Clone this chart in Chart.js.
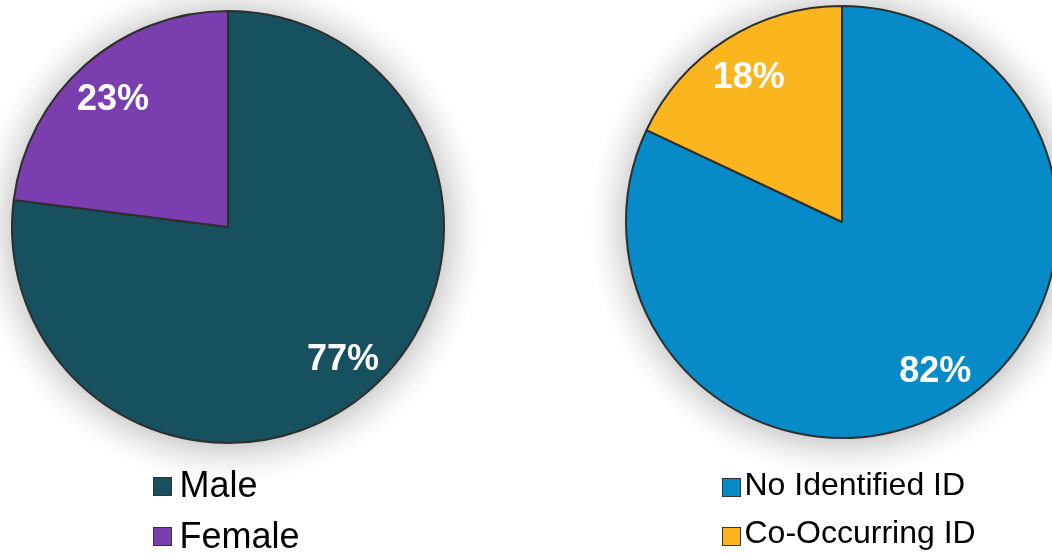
<!DOCTYPE html>
<html>
<head>
<meta charset="utf-8">
<script src="https://cdn.jsdelivr.net/npm/chart.js@4/dist/chart.umd.min.js"></script>
<style>
  html, body { margin: 0; padding: 0; width: 1052px; height: 554px; overflow: hidden; background: #fff; }
  body { position: relative; font-family: "Liberation Sans", Arial, sans-serif; }
  canvas { position: absolute; }
  .leg { position: absolute; white-space: nowrap; color: #000; }
  .sq { position: absolute; box-sizing: border-box; width: 19px; height: 19px; border: 1.5px solid #333; }
</style>
</head>
<body>
<canvas id="c1" width="516" height="514" style="left:-30px;top:-30px"></canvas>
<canvas id="c2" width="516" height="514" style="left:584px;top:-35px"></canvas>
<script>
// ---- data ----
const genderLabels = ["Male", "Female"];
const genderValues = [77, 23];
const genderColors = ["#17505E", "#7A3EAE"];

const idLabels = ["No Identified ID", "Co-Occurring ID"];
const idValues = [82, 18];
const idColors = ["#068BC8", "#FBB51F"];

const shadowPlugin = {
  id: "pieShadow",
  beforeDatasetsDraw(chart) {
    const arc = chart.getDatasetMeta(0).data[0];
    if (!arc) return;
    const x = arc.x, y = arc.y, r = arc.outerRadius;
    const ctx = chart.ctx;
    const ext = 38;
    const cx = x + 1, cy = y + 2;
    ctx.save();
    const g = ctx.createRadialGradient(cx, cy, r - 4, cx, cy, r + ext);
    g.addColorStop(0, "rgba(0,0,0,0.2)");
    g.addColorStop(0.15, "rgba(0,0,0,0.15)");
    g.addColorStop(0.4, "rgba(0,0,0,0.085)");
    g.addColorStop(0.7, "rgba(0,0,0,0.03)");
    g.addColorStop(1, "rgba(0,0,0,0)");
    ctx.beginPath();
    ctx.arc(cx, cy, r + ext, 0, Math.PI * 2);
    ctx.fillStyle = g;
    ctx.fill();
    ctx.restore();
  }
};

const labelPlugin = {
  id: "pctLabels",
  afterDatasetsDraw(chart) {
    const ctx = chart.ctx;
    const meta = chart.getDatasetMeta(0);
    const vals = chart.data.datasets[0].data;
    ctx.save();
    ctx.font = "bold 36px 'Liberation Sans', Arial, sans-serif";
    ctx.fillStyle = "#ffffff";
    ctx.textAlign = "center";
    ctx.textBaseline = "alphabetic";
    meta.data.forEach((arc, i) => {
      const mid = (arc.startAngle + arc.endAngle) / 2;
      const r = arc.outerRadius * 0.805;
      const tx = arc.x + Math.cos(mid) * r;
      const ty = arc.y + Math.sin(mid) * r;
      ctx.fillText(vals[i] + "%", tx, ty + 13);
    });
    ctx.restore();
  }
};

function makePie(id, labels, values, colors) {
  return new Chart(document.getElementById(id), {
    type: "pie",
    data: {
      labels: labels,
      datasets: [{
        data: values,
        backgroundColor: colors,
        borderColor: "#2e2e2e",
        borderWidth: 2
      }]
    },
    options: {
      responsive: false,
      devicePixelRatio: 1,
      animation: false,
      layout: { padding: 40 },
      plugins: { legend: { display: false }, tooltip: { enabled: false } }
    },
    plugins: [shadowPlugin, labelPlugin]
  });
}

makePie("c1", genderLabels, genderValues, genderColors);
makePie("c2", idLabels, idValues, idColors);

function makeLegend(labels, colors, cfg) {
  labels.forEach((lab, i) => {
    const d = document.createElement("div");
    d.className = "leg";
    d.textContent = lab;
    d.style.left = cfg.textX + "px";
    d.style.top = (cfg.top + i * cfg.step) + "px";
    d.style.fontSize = cfg.size + "px";
    d.style.lineHeight = cfg.lh + "px";
    document.body.appendChild(d);
    const s = document.createElement("div");
    s.className = "sq";
    s.style.left = cfg.sqX + "px";
    s.style.top = (cfg.sqTop + i * cfg.sqStep) + "px";
    s.style.background = colors[i];
    document.body.appendChild(s);
  });
}

makeLegend(genderLabels, genderColors, { textX: 179.5, top: 464.5, step: 51, size: 36, lh: 40, sqX: 153, sqTop: 477, sqStep: 50 });
makeLegend(idLabels, idColors, { textX: 744.5, top: 466, step: 48, size: 32, lh: 36, sqX: 722, sqTop: 478, sqStep: 49 });
</script>
</body>
</html>
